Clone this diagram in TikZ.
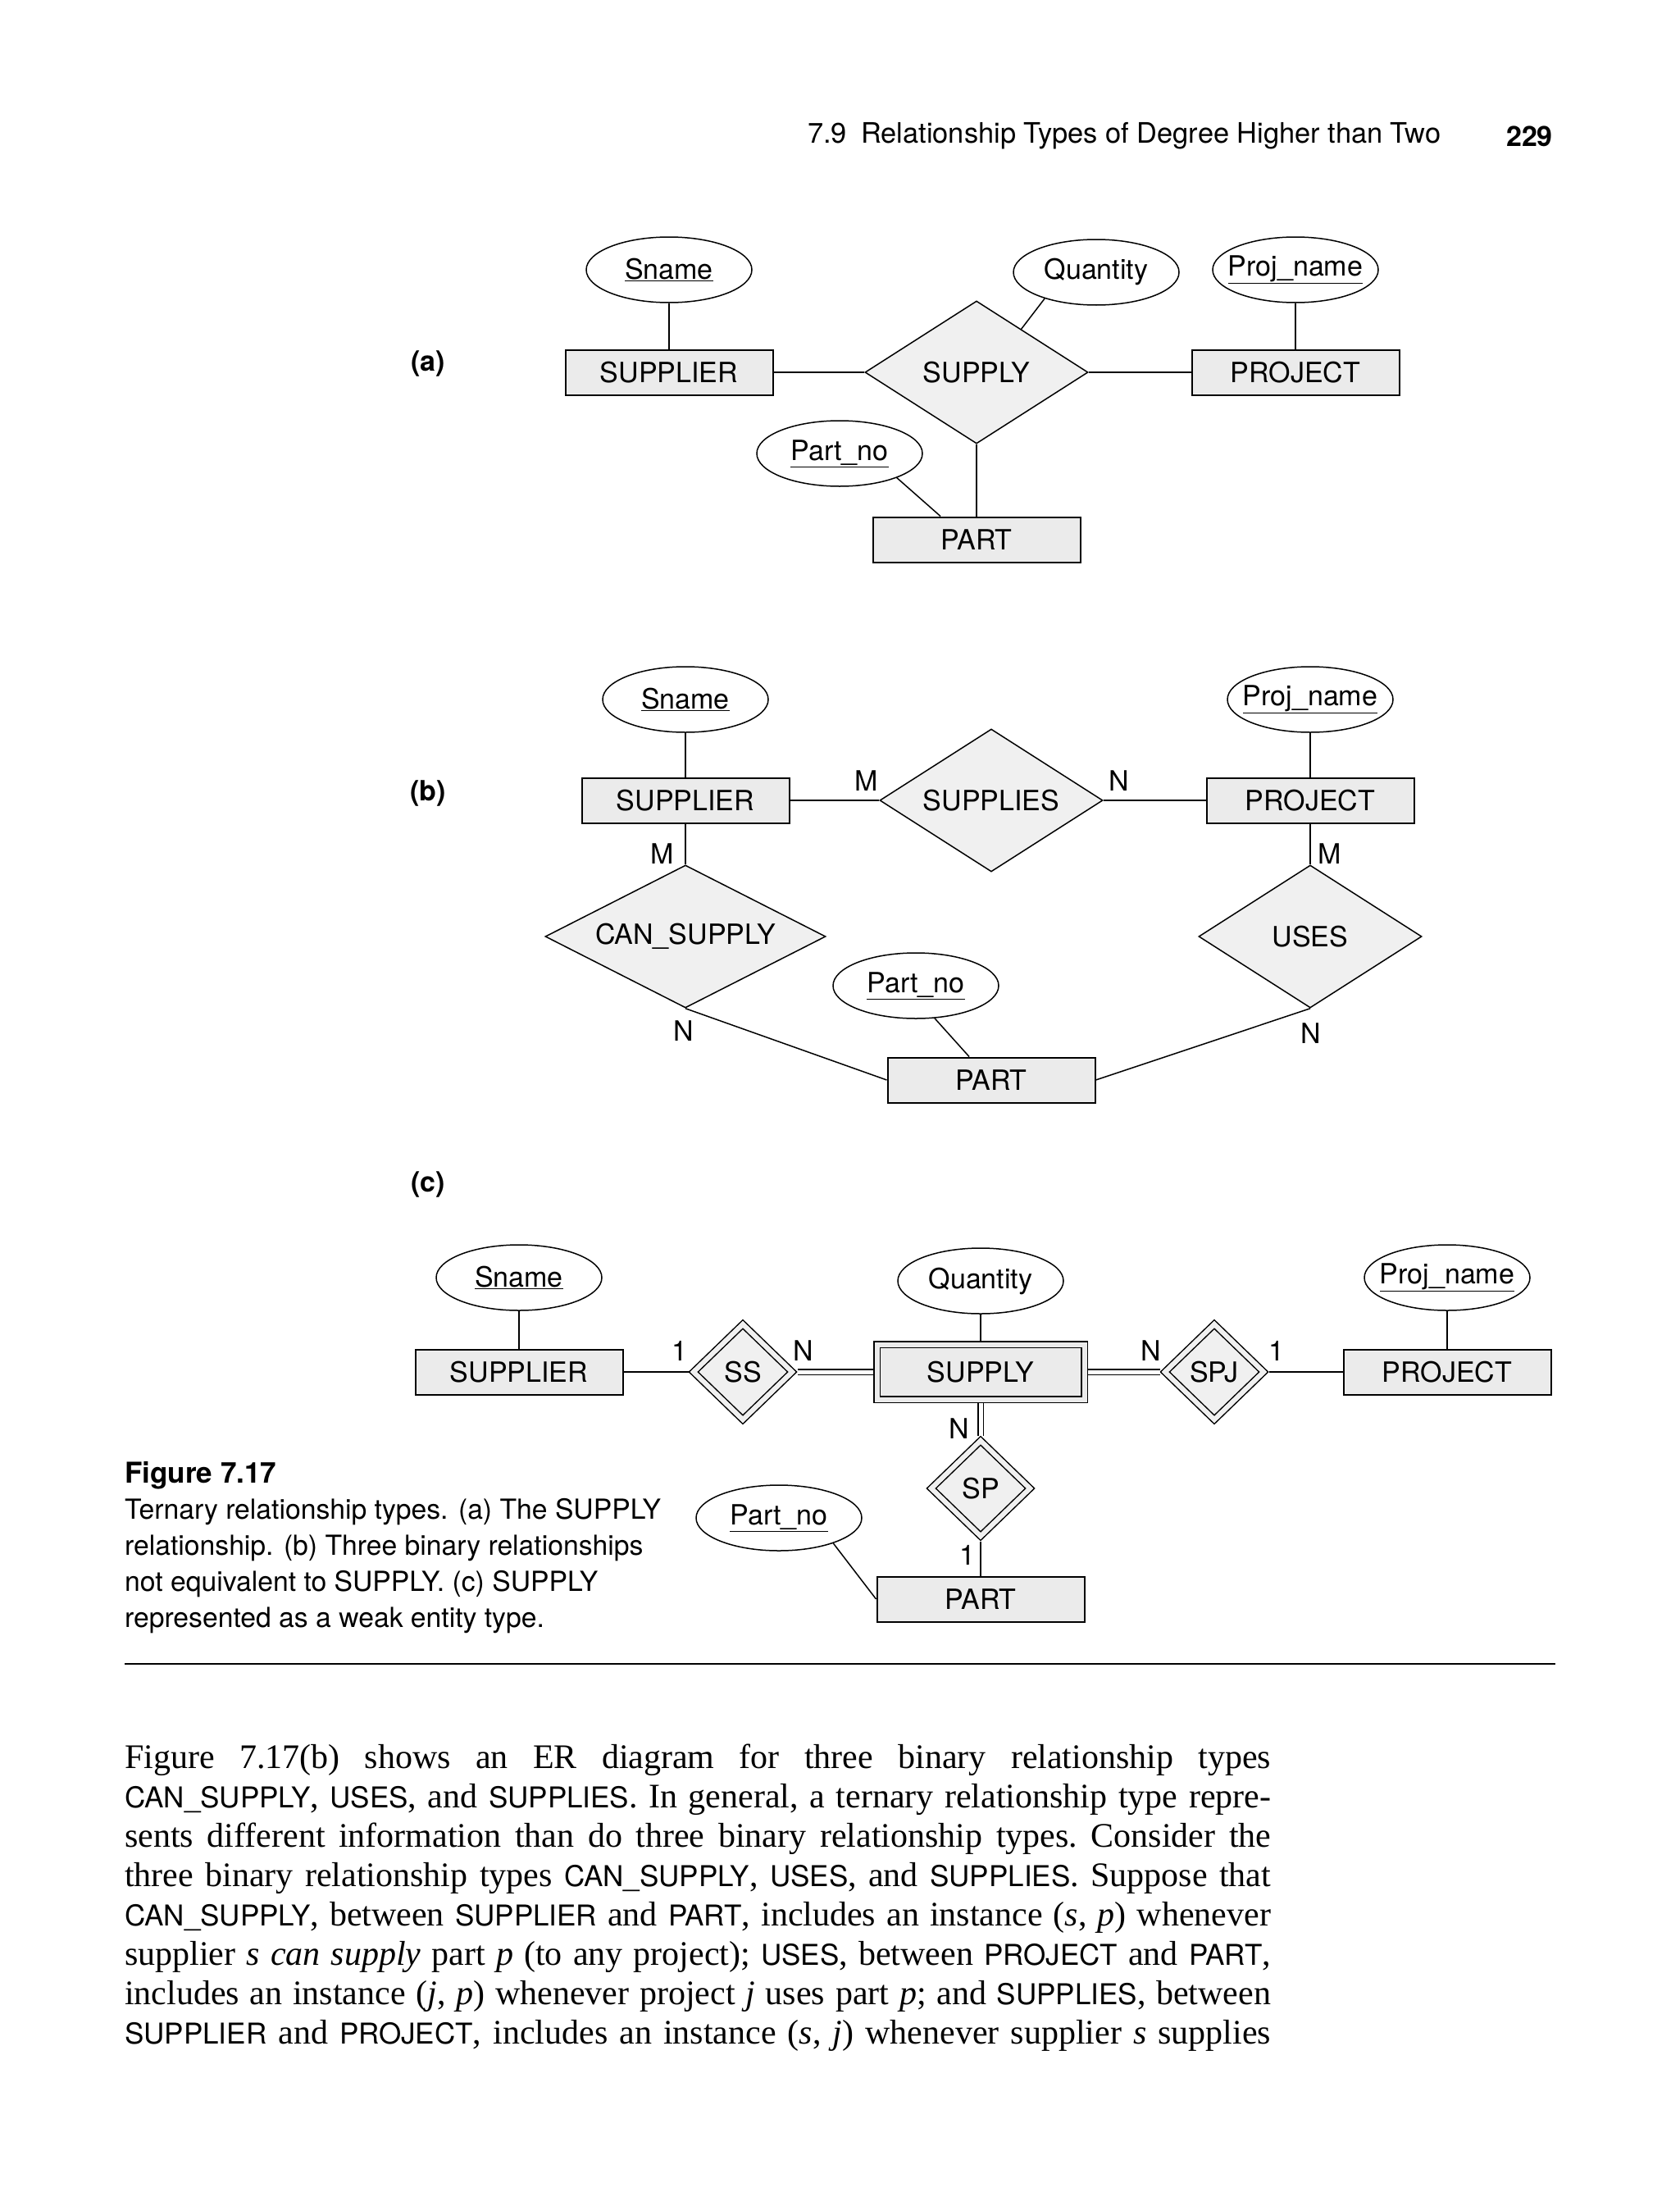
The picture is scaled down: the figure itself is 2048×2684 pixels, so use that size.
\documentclass[tikz,border=0pt]{standalone}
\usepackage{fontspec}
\setmainfont{Liberation Serif}
\setsansfont{TeX Gyre Heros}
\usetikzlibrary{shapes.geometric,calc}
\newcommand{\hs}[1]{{\sffamily\fontsize{35}{40}\selectfont #1}}
\newcommand{\fixw}[1]{\makebox[0pt]{#1}}
\begin{document}
\begin{tikzpicture}[x=1pt,y=-1pt,
  every node/.style={font=\sffamily\fontsize{34}{40}\selectfont},
  ent/.style={draw,line width=2pt,fill=black!8,minimum width=253pt,minimum height=55pt,inner sep=0pt},
  went/.style={draw,line width=1.5pt,fill=black!8,double=black!8,double distance=6pt,minimum width=253pt,minimum height=67pt,inner sep=0pt,outer sep=4.5pt},
  attr/.style={draw,ellipse,line width=1.5pt,fill=white,minimum width=202pt,minimum height=80pt,inner sep=0pt},
  rel/.style={draw,diamond,aspect=1.56,line width=1.5pt,fill=black!6,minimum width=272pt,minimum height=174pt,inner sep=0pt},
  wrel/.style={draw,diamond,line width=1.5pt,fill=black!6,double=black!6,double distance=6pt,minimum width=124pt,minimum height=120pt,inner sep=0pt,outer sep=4.5pt},
  conn/.style={line width=1.5pt},
  dconn/.style={line width=1.4pt,double,double distance=5pt},
  card/.style={inner sep=0pt},
  lab/.style={font=\sffamily\bfseries\fontsize{34}{40}\selectfont,inner sep=0pt},
  capt/.style={anchor=base west,inner sep=0pt,font=\sffamily\fontsize{33.7}{40}\selectfont}
]
\useasboundingbox[fill=white] (0,0) rectangle (2048,2684);

% header
\node[anchor=west,inner sep=0pt,font=\sffamily\fontsize{34.4}{40}\selectfont] (hdr) at (985,166) {7.9\hspace{0.5em}Relationship Types of Degree Higher than Two};
\node[anchor=east,lab] (pg) at (1894,166) {229};

% ---------- (a)
\node[lab] (la) at (522,444) {(a)};
\node[attr] (sn1) at (816,329) {\fixw{\underline{Sname}}};
\node[ent] (sup1) at (816,454) {SUPPLIER};
\node[rel] (sy1) at (1191,454) {SUPPLY};
\node[attr] (qa1) at (1337,332) {\fixw{Quantity}};
\node[attr] (pj1) at (1580,329) {\fixw{\underline{Proj\_name}}};
\node[ent] (pr1) at (1580,454) {PROJECT};
\node[attr] (pn1) at (1024,553) {\fixw{\underline{Part\_no}}};
\node[ent] (pt1) at (1191,658) {PART};
\draw[conn] (sn1.south) -- (sup1.north);
\draw[conn] (sup1.east) -- (sy1.west);
\draw[conn] (sy1.east) -- (pr1.west);
\draw[conn] (qa1.207) -- (sy1.44);
\draw[conn] (pj1.south) -- (pr1.north);
\draw[conn] (sy1.south) -- (pt1.north);
\draw[conn] (pn1.337) -- ([xshift=-44pt]pt1.north);

% ---------- (b)
\node[lab] (lb) at (522,967) {(b)};
\node[attr] (sn2) at (836,853) {\fixw{\underline{Sname}}};
\node[ent] (sup2) at (836,976) {SUPPLIER};
\node[rel] (sus) at (1209,976) {SUPPLIES};
\node[ent] (pr2) at (1598,976) {PROJECT};
\node[attr] (pj2) at (1598,853) {\fixw{\underline{Proj\_name}}};
\node[rel,aspect=2,minimum width=342pt] (cs) at (836,1142) {CAN\_SUPPLY};
\node[rel] (us) at (1598,1142) {USES};
\node[attr] (pn2) at (1117,1202) {\fixw{\underline{Part\_no}}};
\node[ent] (pt2) at (1209,1317) {PART};
\draw[conn] (sn2.south) -- (sup2.north);
\draw[conn] (pj2.south) -- (pr2.north);
\draw[conn] (sup2.east) -- (sus.west);
\draw[conn] (sus.east) -- (pr2.west);
\draw[conn] (sup2.south) -- (cs.north);
\draw[conn] (pr2.south) -- (us.north);
\draw[conn] (cs.south) -- (pt2.west);
\draw[conn] (us.south) -- (pt2.east);
\draw[conn] (pn2.300) -- ([xshift=-27pt]pt2.north);
\node[card] (cb1) at (1057,952) {M};
\node[card] (cb2) at (1365,952) {N};
\node[card] (cb3) at (808,1041) {M};
\node[card] (cb4) at (834,1257) {N};
\node[card] (cb5) at (1622,1041) {M};
\node[card] (cb6) at (1599,1260) {N};

% ---------- (c)
\node[lab] (lc) at (522,1444) {(c)};
\node[attr] (sn3) at (633,1558) {\fixw{\underline{Sname}}};
\node[ent] (sup3) at (633,1673) {SUPPLIER};
\node[wrel] (ss) at (906,1673) {SS};
\node[went] (wsup) at (1196,1673) {SUPPLY};
\node[attr] (qa3) at (1196,1562) {\fixw{Quantity}};
\node[wrel] (spj) at (1481,1673) {SPJ};
\node[ent] (pr3) at (1765,1673) {PROJECT};
\node[attr] (pj3) at (1765,1558) {\fixw{\underline{Proj\_name}}};
\node[wrel] (sp) at (1196,1815) {SP};
\node[attr] (pn3) at (950,1851) {\fixw{\underline{Part\_no}}};
\node[ent] (pt3) at (1196,1950) {PART};
\draw[conn] (sn3.south) -- (sup3.north);
\draw[conn] (qa3.south) -- (wsup.north);
\draw[conn] (pj3.south) -- (pr3.north);
\draw[conn] (sup3.east) -- (ss.west);
\draw[dconn] (ss.east) -- (wsup.west);
\draw[dconn] (wsup.east) -- (spj.west);
\draw[conn] (spj.east) -- (pr3.west);
\draw[dconn] (wsup.south) -- (sp.north);
\draw[conn] (sp.south) -- (pt3.north);
\draw[conn] (pn3.335) -- (pt3.west);
\node[card] (cc1) at (829,1647) {1};
\node[card] (cc2) at (980,1647) {N};
\node[card] (cc3) at (1404,1647) {N};
\node[card] (cc4) at (1557,1647) {1};
\node[card] (cc5) at (1170,1742) {N};
\node[card] (cc6) at (1180,1896) {1};

% caption
\node[anchor=base west,lab,font=\sffamily\bfseries\fontsize{35}{40}\selectfont] (cap0) at (152,1808) {Figure 7.17};
\node[capt] (cap1) at (152,1852) {Ternary relationship types. (a) The SUPPLY};
\node[capt] (cap2) at (152,1896) {relationship. (b) Three binary relationships};
\node[capt] (cap3) at (152,1940) {not equivalent to SUPPLY. (c) SUPPLY};
\node[capt] (cap4) at (152,1984) {represented as a weak entity type.};

% rule
\draw[line width=2pt] (152,2029) -- (1897,2029);

% body text
\node[anchor=north west,inner sep=0pt,text width=1398pt,align=justify,
      font=\rmfamily\fontsize{42}{48}\selectfont] (body) at (152,2127) {\frenchspacing
Figure 7.17(b) shows an ER diagram for three binary relationship types\linebreak
\hs{CAN\_SUPPLY}, \hs{USES}, and \hs{SUPPLIES}. In general, a ternary relationship type repre-\linebreak
sents different information than do three binary relationship types. Consider the\linebreak
three binary relationship types \hs{CAN\_SUPPLY}, \hs{USES}, and \hs{SUPPLIES}. Suppose that\linebreak
\hs{CAN\_SUPPLY}, between \hs{SUPPLIER} and \hs{PART}, includes an instance (\textit{s}, \textit{p}) whenever\linebreak
supplier \textit{s can supply} part \textit{p} (to any project); \hs{USES}, between \hs{PROJECT} and \hs{PART},\linebreak
includes an instance (\textit{j}, \textit{p}) whenever project \textit{j} uses part \textit{p}; and \hs{SUPPLIES}, between\linebreak
\hs{SUPPLIER} and \hs{PROJECT}, includes an instance (\textit{s}, \textit{j}) whenever supplier \textit{s} supplies\parfillskip=0pt\par};
\end{tikzpicture}
\end{document}
